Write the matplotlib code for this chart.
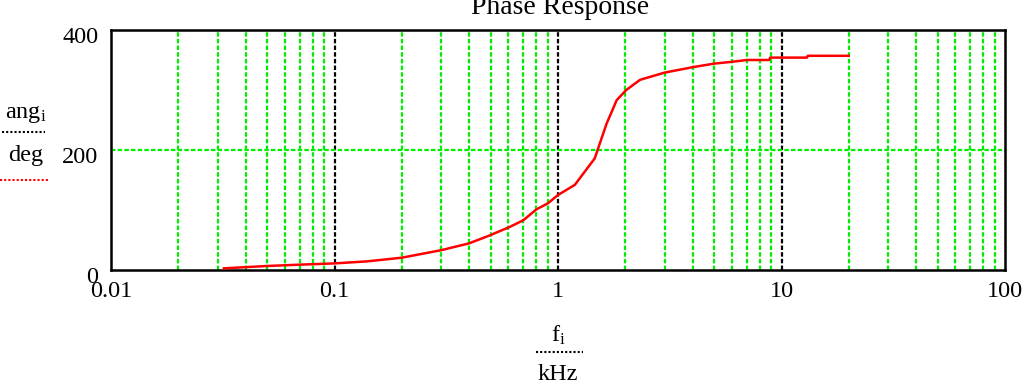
import numpy as np
import matplotlib
matplotlib.use('Agg')
from matplotlib import pyplot as plt
from matplotlib.lines import Line2D
from matplotlib.transforms import ScaledTranslation

# phase response
freq_khz = [0.032, 0.05, 0.07, 0.1, 0.14, 0.2, 0.3, 0.4, 0.49, 0.61, 0.7, 0.8, 0.9, 1.0,
            1.19, 1.46, 1.65, 1.83, 2.02, 2.33, 3.0, 4.0, 5.0, 6.0, 7.0, 8.8, 8.9, 13.0, 13.1, 20.0]
ang_deg = [2.8, 6.7, 8.9, 11, 14.4, 20.5, 33, 44.4, 57, 72, 83, 101, 111, 125,
           142, 186, 244, 283, 300, 317, 329, 338, 344, 347, 350, 350, 354, 354, 357, 357]

x_ticks = [0.01, 0.1, 1, 10, 100]
x_tick_labels = ['0.01', '0.1', '1', '10', '100']
y_ticks = [0, 200, 400]
y_tick_labels = ['0', '200', '400']

plt.rcParams['font.family'] = 'Liberation Serif'
plt.rcParams['mathtext.fontset'] = 'custom'
plt.rcParams['mathtext.rm'] = 'Liberation Serif'
plt.rcParams['mathtext.it'] = 'Liberation Serif'

W, H = 1030, 388
fig = plt.figure(figsize=(W / 100, H / 100), dpi=100)
ax = fig.add_axes([111 / W, 1 - 270 / H, (1005 - 111) / W, 240 / H])

def fx(px):
	return px / W

def fy(py):
	return 1 - py / H

green = '#00ee00'
dots = (0, (2, 1))
fs = 17.5

# grid: green minor lines, black dotted decades
for dec in [0.01, 0.1, 1, 10]:
	for m in range(2, 10):
		ax.axvline(dec * m, color=green, lw=1.6, ls=dots, zorder=1)
for dec in [0.1, 1, 10]:
	ax.axvline(dec, color='black', lw=1.6, ls=dots, zorder=1)
ax.axhline(200, color=green, lw=1.6, ls=dots, zorder=1)

ax.plot(freq_khz, ang_deg, color='red', lw=1.8, zorder=3)

ax.set_xscale('log')
ax.set_xlim(0.01, 100)
ax.set_ylim(0, 400)
ax.set_xticks(x_ticks)
ax.set_xticklabels(x_tick_labels)
ax.xaxis.set_minor_locator(matplotlib.ticker.NullLocator())
ax.set_yticks(y_ticks)
ax.set_yticklabels(y_tick_labels)
ax.tick_params(axis='both', length=0, labelsize=fs)
ax.tick_params(axis='x', pad=8)
ax.tick_params(axis='y', pad=9)
off = ScaledTranslation(0, -5 / 100, fig.dpi_scale_trans)
for lab in ax.get_yticklabels():
	lab.set_transform(lab.get_transform() + off)

ax.spines['left'].set_linewidth(1.8)
ax.spines['right'].set_linewidth(1.8)
ax.spines['top'].set_linestyle(dots)
ax.spines['bottom'].set_linestyle(dots)
ax.spines['top'].set_linewidth(1.8)
ax.spines['bottom'].set_linewidth(1.8)

# title (cut off at the top like the original)
fig.text(fx(560), fy(14), 'Phase Response', ha='center', va='baseline', fontsize=20)

# y label stack with legend line
fig.text(fx(26), fy(118), r'ang$_{\mathrm{i}}$', ha='center', va='baseline', fontsize=fs)
fig.add_artist(Line2D([fx(2), fx(45)], [fy(132), fy(132)], color='black', lw=1.5, ls=(0, (1, 1))))
fig.text(fx(26), fy(161), 'deg', ha='center', va='baseline', fontsize=fs)
fig.add_artist(Line2D([fx(0), fx(49)], [fy(180), fy(180)], color='red', lw=1.5, ls=(0, (1, 1))))

# x label stack
fig.text(fx(558), fy(342), r'f$_{\mathrm{i}}$', ha='center', va='baseline', fontsize=fs)
fig.add_artist(Line2D([fx(536), fx(583)], [fy(352), fy(352)], color='black', lw=1.5, ls=(0, (1, 1))))
fig.text(fx(558), fy(380), 'kHz', ha='center', va='baseline', fontsize=fs)

fig.savefig('out.png', dpi=100)
